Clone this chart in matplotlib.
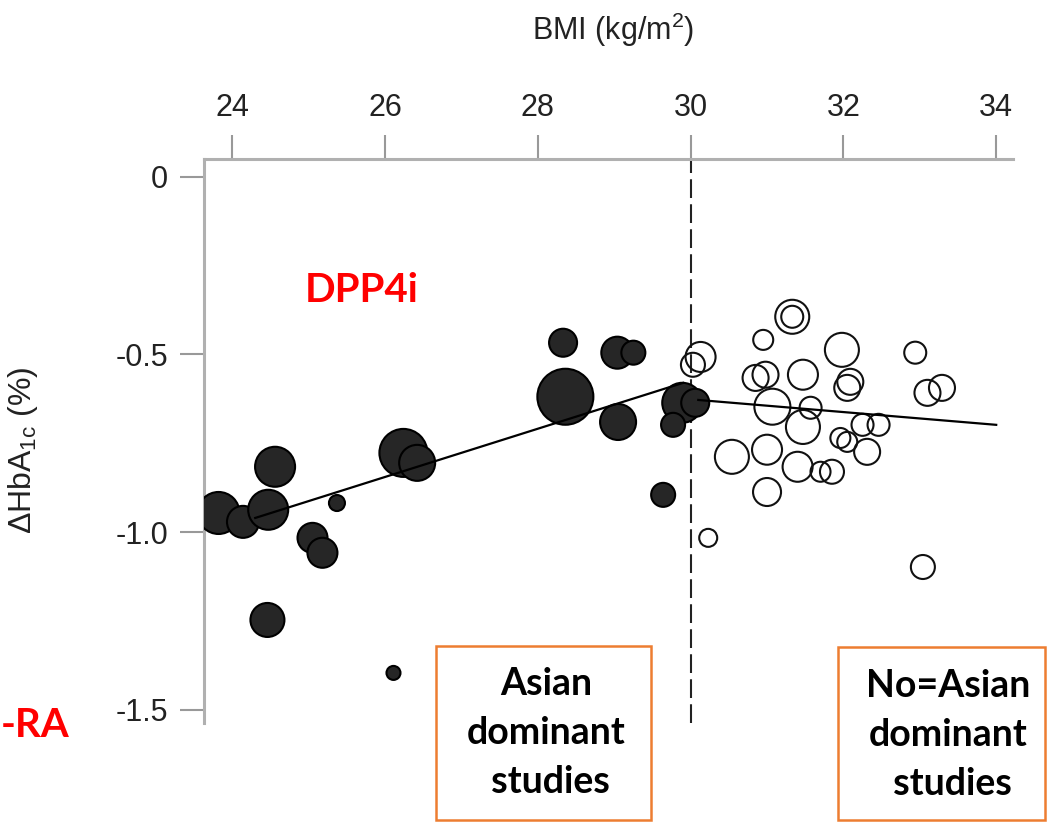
import matplotlib.pyplot as plt
from matplotlib.patches import Rectangle
import numpy as np

plt.rcParams['font.family'] = ['Liberation Sans', 'DejaVu Sans']
plt.rcParams['mathtext.fontset'] = 'custom'
plt.rcParams['mathtext.rm'] = 'Liberation Sans'

# Asian dominant studies (filled)
asian_bmi = [23.82, 24.14, 24.47, 24.56, 25.37, 25.05, 25.18, 24.46, 26.11, 26.24,
             26.42, 28.33, 29.04, 29.25, 28.36, 29.05, 29.89, 30.06, 29.77, 29.64]
asian_dhba = [-0.946, -0.971, -0.937, -0.816, -0.918, -1.016, -1.058, -1.247, -1.396, -0.777,
              -0.805, -0.467, -0.495, -0.495, -0.619, -0.690, -0.636, -0.636, -0.698, -0.895]
asian_w = [21, 16, 20, 20, 8, 15, 15, 17, 7, 24,
           18, 14, 16, 12, 28, 18, 20, 14, 12, 12]

# non-Asian dominant studies (open)
other_bmi = [31.33, 31.33, 30.95, 30.13, 30.03, 31.98, 32.94, 30.85, 30.98, 31.47,
             32.05, 32.09, 33.10, 33.29, 31.07, 31.57, 31.47, 32.25, 32.46, 31.96,
             32.05, 32.31, 30.54, 31.00, 31.40, 31.70, 31.85, 31.00, 30.23, 33.04]
other_dhba = [-0.394, -0.394, -0.459, -0.507, -0.529, -0.487, -0.495, -0.566, -0.557, -0.557,
              -0.594, -0.577, -0.608, -0.594, -0.647, -0.650, -0.704, -0.698, -0.698, -0.735,
              -0.746, -0.774, -0.788, -0.768, -0.816, -0.830, -0.830, -0.887, -1.016, -1.098]
other_w = [17, 11, 10, 15, 12, 17, 11, 13, 13, 15,
           13, 13, 13, 13, 18, 11, 17, 11, 11, 10,
           10, 13, 17, 15, 15, 10, 12, 14, 9, 12]

# fitted lines
fit_left_x = [24.3, 29.9]
fit_left_y = [-0.96, -0.58]
fit_right_x = [30.1, 34.0]
fit_right_y = [-0.628, -0.698]

fig = plt.figure(figsize=(10.49, 8.22), dpi=100)
ax = fig.add_axes([0.1945, 0.1204, 0.7712, 0.6862])

def sz(w):
    return (1.44 * np.array(w)) ** 2

ax.scatter(asian_bmi, asian_dhba, s=sz(asian_w), facecolor='#262626', edgecolor='black',
           linewidth=1.5, zorder=3)
ax.scatter(other_bmi, other_dhba, s=sz(other_w), facecolor='none', edgecolor='#111111',
           linewidth=1.5, zorder=3)

ax.plot(fit_left_x, fit_left_y, color='black', lw=1.6, zorder=4)
ax.plot(fit_right_x, fit_right_y, color='black', lw=1.6, zorder=4)
ax.axvline(30, color='#222222', lw=1.5, linestyle=(0, (9, 3)), zorder=2)

ax.set_xlim(23.63, 34.22)
ax.set_ylim(-1.537, 0.05)
ax.set_xticks([24, 26, 28, 30, 32, 34])
ax.set_yticks([0, -0.5, -1.0, -1.5])
ax.set_yticklabels(['0', '-0.5', '-1.0', '-1.5'])

ax.xaxis.tick_top()
ax.xaxis.set_label_position('top')
for s in ['right', 'bottom']:
    ax.spines[s].set_visible(False)
for s in ['left', 'top']:
    ax.spines[s].set_color('#b0b0b0')
    ax.spines[s].set_linewidth(2.2)
ax.tick_params(axis='both', colors='#999999', width=1.5, length=17, labelsize=22,
               labelcolor='#222222', pad=9)

ax.set_xlabel('BMI (kg/m$^2$)', fontsize=22, color='#222222')
ax.xaxis.set_label_coords(0.506, 1.211)
ax.set_ylabel(r'ΔHbA$_{\mathrm{1c}}$ (%)', fontsize=23, color='#222222')
ax.yaxis.set_label_coords(-0.203, 0.484)

fig.text(0.345, 0.647, 'DPP4i', color='#ff0000', fontsize=29, fontweight='bold',
         family='Lato', ha='center', va='center')
fig.text(0.001, 0.118, '-RA', color='#ff0000', fontsize=29, fontweight='bold',
         family='Lato', ha='left', va='center')

orange = '#ed7d31'
fig.patches.append(Rectangle((0.4156, 0.0024), 0.205, 0.2117, transform=fig.transFigure,
                             facecolor='white', edgecolor=orange, lw=1.8))
fig.patches.append(Rectangle((0.7989, 0.003), 0.1973, 0.2105, transform=fig.transFigure,
                             facecolor='white', edgecolor=orange, lw=1.8))
fig.text(0.5205, 0.1083, 'Asian\ndominant\n studies', fontsize=27, fontweight='bold',
         family='Lato', ha='center', va='center', linespacing=1.52)
fig.text(0.9037, 0.1058, 'No=Asian\ndominant\n studies', fontsize=27, fontweight='bold',
         family='Lato', ha='center', va='center', linespacing=1.52)

fig.savefig('out.png', dpi=100)
